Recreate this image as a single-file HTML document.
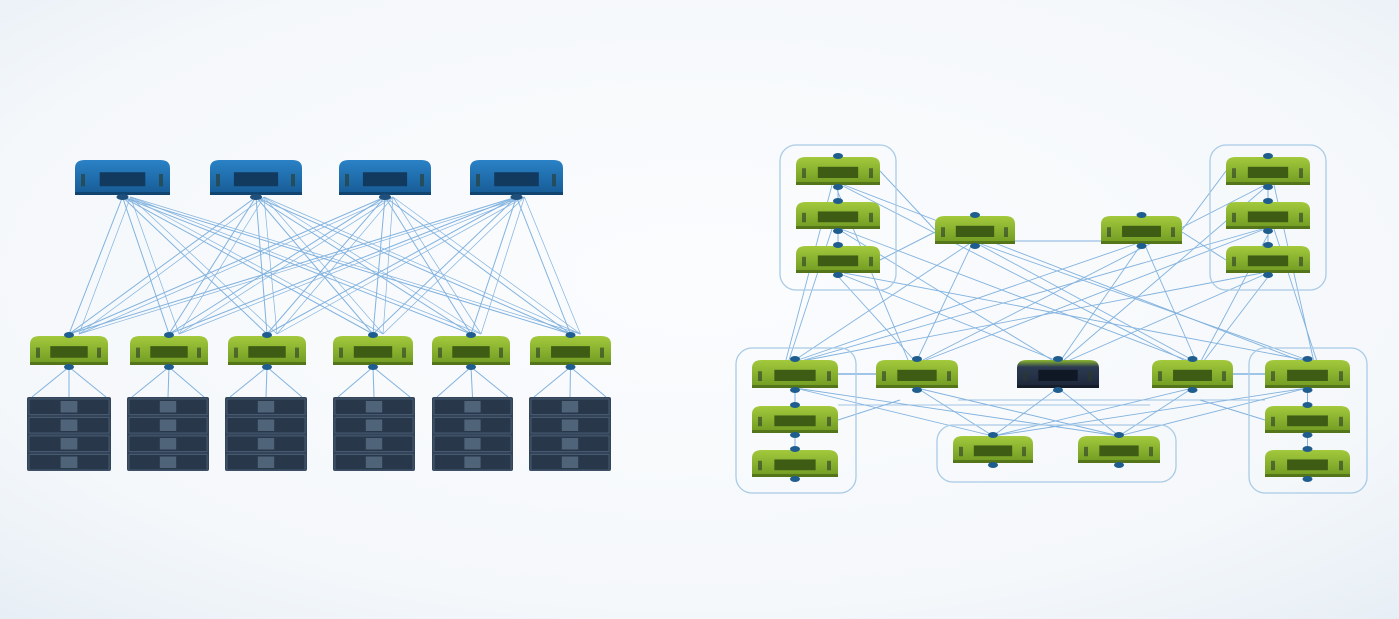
<!DOCTYPE html>
<html><head><meta charset="utf-8"><style>
html,body{margin:0;padding:0;background:#f7f9fc;}
svg{display:block}
</style></head><body>
<svg id="s" width="1399" height="619" viewBox="0 0 1399 619" xmlns="http://www.w3.org/2000/svg">
<defs>
<radialGradient id="bg" cx="50%" cy="45%" r="75%"><stop offset="0" stop-color="#fbfcfe"/><stop offset="0.7" stop-color="#f5f8fb"/><stop offset="1" stop-color="#e6eef5"/></radialGradient>
<linearGradient id="gg" x1="0" y1="0" x2="0" y2="1"><stop offset="0" stop-color="#a3c93c"/><stop offset="1" stop-color="#6f9a22"/></linearGradient>
<linearGradient id="bb" x1="0" y1="0" x2="0" y2="1"><stop offset="0" stop-color="#2a82c6"/><stop offset="1" stop-color="#165a94"/></linearGradient>
<linearGradient id="dk" x1="0" y1="0" x2="0" y2="1"><stop offset="0" stop-color="#8db82e"/><stop offset="0.25" stop-color="#2c3b52"/><stop offset="1" stop-color="#1c2638"/></linearGradient>
</defs>
<rect width="1399" height="619" fill="url(#bg)"/>
<g id="lines" stroke="#5b9bd5" stroke-width="1" fill="none" opacity="0.75"></g>
<g id="boxes" fill="none" stroke="#a9cbe6" stroke-width="1.3"></g>
<g id="nodes"></g>
</svg>
<script>
(function(){
var NS="http://www.w3.org/2000/svg";
function el(p,t,a){var e=document.createElementNS(NS,t);for(var k in a)e.setAttribute(k,a[k]);p.appendChild(e);return e;}
var L=document.getElementById('lines'),B=document.getElementById('boxes'),N=document.getElementById('nodes');
function line(x1,y1,x2,y2,w){el(L,'line',{x1:x1,y1:y1,x2:x2,y2:y2,'stroke-width':w||1});}
function sw(x,y,w,h,fill,scr,port){
  var g=el(N,'g',{});
  el(g,'path',{d:'M'+x+' '+(y+h)+' L'+x+' '+(y+8)+' Q'+x+' '+y+' '+(x+10)+' '+y+' L'+(x+w-10)+' '+y+' Q'+(x+w)+' '+y+' '+(x+w)+' '+(y+8)+' L'+(x+w)+' '+(y+h)+' Z',fill:fill});
  el(g,'rect',{x:x,y:y+h-3,width:w,height:3,fill:'rgba(0,0,0,0.25)'});
  el(g,'rect',{x:x+w*0.26,y:y+h*0.35,width:w*0.48,height:h*0.4,fill:scr});
  el(g,'rect',{x:x+6,y:y+h*0.4,width:4,height:h*0.35,fill:'#2a3a2a',opacity:0.6});
  el(g,'rect',{x:x+w-11,y:y+h*0.4,width:4,height:h*0.35,fill:'#2a3a2a',opacity:0.6});
  if(port){el(g,'ellipse',{cx:x+w/2,cy:y+h+2,rx:5,ry:3,fill:'#1f5d8f'});el(g,'ellipse',{cx:x+w/2,cy:y-1,rx:5,ry:3,fill:'#1f5d8f'});}
}
function rack(x,y,w,h){
  var g=el(N,'g',{});
  el(g,'rect',{x:x,y:y,width:w,height:h,rx:2,fill:'#334459'});
  var rh=h/4;
  for(var i=0;i<4;i++){
    el(g,'rect',{x:x+2,y:y+2+i*rh,width:w-4,height:rh-3,fill:'#28374a',stroke:'#4d6178','stroke-width':0.8});
    el(g,'rect',{x:x+w*0.4,y:y+4+i*rh,width:w*0.2,height:rh-7,fill:'#4f6379'});
  }
}
var blue=[[75,170],[210,302],[339,431],[470,563]];
var green=[[30,108],[130,208],[228,306],[333,413],[432,510],[530,611]];
var racks=[[27,111],[127,209],[225,307],[333,415],[432,513],[529,611]];
blue.forEach(function(b){var bx=(b[0]+b[1])/2;green.forEach(function(g){var gx=(g[0]+g[1])/2;line(bx,197,gx,334);line(bx+8,197,gx+10,334,0.7);});});
green.forEach(function(g,i){var gx=(g[0]+g[1])/2,r=racks[i];line(gx,367,r[0]+5,397);line(gx,367,(r[0]+r[1])/2,397);line(gx,367,r[1]-5,397);});
blue.forEach(function(b){sw(b[0],160,b[1]-b[0],35,'url(#bb)','#123a5e',false);el(N,'ellipse',{cx:(b[0]+b[1])/2,cy:197,rx:6,ry:3,fill:'#1f4f7a'});});
green.forEach(function(g){sw(g[0],336,g[1]-g[0],29,'url(#gg)','#3f5c14',true);});
racks.forEach(function(r){rack(r[0],397,r[1]-r[0],74);});
[[780,145,116,145],[1210,145,116,145],[736,348,120,145],[1249,348,118,145],[937,425,239,57]].forEach(function(b){el(B,'rect',{x:b[0],y:b[1],width:b[2],height:b[3],rx:16});});
var R={
a1:[796,157,84,28],a2:[796,202,84,27],a3:[796,246,84,27],
b1:[1226,157,84,28],b2:[1226,202,84,27],b3:[1226,246,84,27],
m1:[935,216,80,28],m2:[1101,216,81,28],
c1:[752,360,86,28],c2:[752,406,86,27],c3:[752,450,86,27],
n1:[876,360,82,28],n2:[1017,360,82,28],n3:[1152,360,81,28],
d1:[1265,360,85,28],d2:[1265,406,85,27],d3:[1265,450,85,27],
e1:[953,436,80,27],e2:[1078,436,82,27]};
function cxf(k){return R[k][0]+R[k][2]/2;}
function tp(k){return R[k][1];} function bt(k){return R[k][1]+R[k][3];}
var up=['a1','a2','a3','m1','m2','b1','b2','b3'],low=['c1','n1','n2','n3','d1'];
up.forEach(function(u,i){low.forEach(function(l,j){if((i+j)%3!==2)line(cxf(u)+(j-2)*3,bt(u),cxf(l)+(i-3)*3,tp(l),0.9);});});
line(cxf('a1'),bt('a1'),cxf('a2'),tp('a2'));line(cxf('a2'),bt('a2'),cxf('a3'),tp('a3'));
line(cxf('b1'),bt('b1'),cxf('b2'),tp('b2'));line(cxf('b2'),bt('b2'),cxf('b3'),tp('b3'));
line(cxf('c1'),bt('c1'),cxf('c2'),tp('c2'));line(cxf('c2'),bt('c2'),cxf('c3'),tp('c3'));
line(cxf('d1'),bt('d1'),cxf('d2'),tp('d2'));line(cxf('d2'),bt('d2'),cxf('d3'),tp('d3'));
line(880,171,935,230);line(880,260,935,232);line(1182,230,1226,171);line(1182,232,1226,260);line(1015,241,1101,241);
line(838,374,876,374,1.5);line(1233,374,1265,374,1.5);
['n1','n2','n3','c1','d1'].forEach(function(l){['e1','e2'].forEach(function(e){line(cxf(l),bt(l),cxf(e),tp(e),0.9);});});
line(838,420,900,400);line(1265,420,1200,400);line(958,400,1265,400,0.7);line(838,405,1150,405,0.7);
for(var k in R){var r=R[k];sw(r[0],r[1],r[2],r[3],k==='n2'?'url(#dk)':'url(#gg)',k==='n2'?'#101826':'#3f5c14',true);}
})();
</script>
</body></html>
